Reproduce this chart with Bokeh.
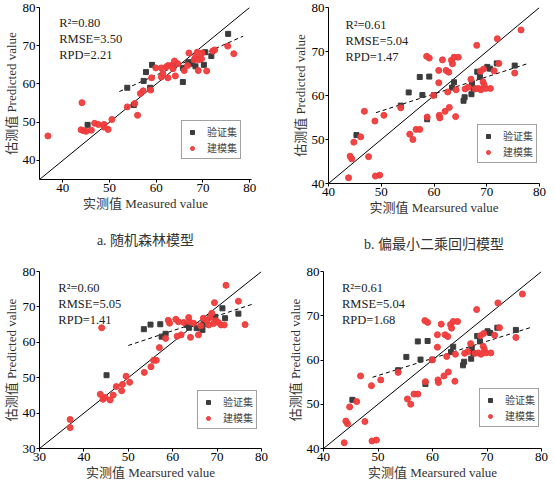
from bokeh.plotting import figure
from bokeh.models import Range1d, FixedTicker, Label, Legend, LegendItem, Title
from bokeh.layouts import column, row
from bokeh.embed import file_html
from bokeh.resources import INLINE

FONT = "'Liberation Serif', 'Noto Sans CJK SC', serif"
RED = "#f03c3c"
GRAY = "#3c3c3c"

# ---- panel a: random forest ----
a_val_x = [45.3, 53.8, 55.2, 57.3, 57.8, 58.7, 59.1, 63.6, 65.7, 65.7, 66.9, 67.7, 68.4, 70.2, 70.5, 71.8, 75.4]
a_val_y = [49.3, 59.0, 54.5, 60.8, 63.1, 59.0, 65.0, 64.8, 60.5, 64.2, 65.7, 65.3, 64.6, 65.0, 68.3, 67.3, 73.1]
a_cal_x = [36.8, 44.1, 43.9, 44.4, 45.0, 46.1, 46.8, 47.6, 48.8, 48.8, 49.7, 50.5, 53.8, 55.4, 56.0, 56.6,
           57.2, 58.8, 59.0, 59.9, 61.1, 61.1, 61.4, 62.1, 62.5, 62.5, 63.2, 63.6, 63.9, 64.1, 64.6, 66.0,
           66.7, 67.0, 68.1, 68.4, 68.8, 69.0, 69.1, 69.7, 69.8, 70.8, 72.1, 72.5, 75.3, 76.6]
a_cal_y = [46.4, 55.1, 48.0, 47.8, 47.6, 47.9, 49.7, 49.4, 48.7, 49.4, 48.1, 50.7, 54.0, 54.9, 51.8, 57.5,
           58.2, 58.4, 61.6, 64.2, 64.2, 61.8, 62.7, 64.4, 64.8, 61.6, 64.8, 64.0, 66.0, 62.1, 65.3, 63.5,
           64.8, 68.1, 66.3, 67.0, 68.3, 63.5, 66.3, 66.6, 68.1, 63.4, 68.6, 68.9, 69.9, 67.9]
a_fit_x = [52.1, 78.6]
a_fit_y = [58.0, 72.5]
a_stats = "R²=0.80\nRMSE=3.50\nRPD=2.21"

# ---- panel b / d: PLSR ----
b_val_x = [45.3, 53.7, 55.2, 57.3, 57.8, 58.7, 59.1, 60.0, 63.4, 63.8, 65.6, 65.8, 67.1, 67.2, 67.5, 68.2,
           68.7, 70.1, 70.6, 71.9, 75.3]
b_val_y = [51.0, 57.7, 60.7, 64.2, 60.1, 54.6, 64.3, 60.1, 61.8, 63.0, 58.8, 59.6, 60.3, 62.8, 61.6, 65.4,
           64.2, 66.5, 66.1, 67.3, 66.8]
b_cal_x = [43.8, 44.1, 44.4, 44.8, 46.1, 46.8, 47.6, 48.8, 48.9, 49.7, 50.5, 53.7, 55.4, 56.0, 56.6, 57.3,
           58.6, 59.1, 58.7, 59.9, 60.9, 60.9, 61.0, 61.1, 61.6, 62.1, 62.3, 62.6, 62.8, 62.9, 63.3, 63.5,
           63.8, 64.2, 64.1, 64.6, 65.9, 66.5, 67.0, 67.8, 68.1, 68.4, 68.8, 68.9, 69.3, 69.4, 69.5, 69.8,
           70.7, 71.4, 72.0, 72.3, 75.3, 76.5]
b_cal_y = [41.3, 46.2, 45.6, 49.4, 50.6, 56.4, 46.1, 54.2, 41.7, 41.9, 55.5, 57.2, 51.2, 50.0, 52.3, 52.3,
           68.9, 68.5, 55.1, 60.0, 65.7, 62.9, 55.5, 54.9, 68.1, 56.4, 65.7, 60.8, 65.3, 57.3, 68.0, 67.2,
           68.7, 61.3, 55.2, 68.7, 61.5, 61.9, 63.7, 61.5, 71.4, 61.6, 65.5, 61.3, 63.1, 66.0, 62.4, 61.6,
           61.6, 65.6, 72.9, 67.3, 65.1, 74.9]
b_fit_x = [49.0, 77.9]
b_fit_y = [56.1, 67.3]
b_stats = "R²=0.61\nRMSE=5.04\nRPD=1.47"
d_stats = "R²=0.61\nRMSE=5.04\nRPD=1.68"

# ---- panel c ----
c_val_x = [45.1, 53.5, 55.0, 57.2, 57.5, 58.4, 63.2, 63.7, 65.4, 66.7, 66.9, 69.6, 71.2, 71.8, 74.8]
c_val_y = [50.7, 63.7, 65.0, 65.1, 61.6, 62.4, 64.9, 64.1, 64.0, 63.5, 65.1, 67.2, 69.6, 66.8, 68.1]
c_cal_x = [36.9, 36.9, 43.7, 44.0, 44.3, 44.8, 45.9, 46.6, 47.3, 48.5, 48.7, 49.5, 50.3, 53.6, 55.1, 55.7,
           56.3, 57.0, 58.4, 59.0, 59.3, 60.7, 61.0, 61.3, 61.9, 62.5, 63.6, 63.8, 64.0, 64.7, 65.8, 66.3,
           66.9, 67.7, 68.1, 68.4, 68.8, 69.2, 69.4, 69.7, 70.3, 70.9, 71.6, 72.0, 74.8, 76.3]
c_cal_y = [38.2, 35.9, 45.3, 64.1, 43.9, 44.4, 43.7, 45.1, 47.5, 46.3, 48.1, 50.4, 48.7, 51.5, 53.1, 54.9,
           54.9, 58.5, 61.1, 66.2, 65.4, 66.5, 61.7, 65.8, 62.1, 65.6, 67.0, 65.8, 61.4, 65.4, 62.1, 64.7,
           66.8, 66.1, 64.9, 67.0, 68.2, 65.3, 71.2, 66.1, 65.6, 64.9, 64.9, 76.1, 71.6, 65.0]
c_fit_x = [50.0, 77.8]
c_fit_y = [59.1, 70.7]
c_stats = "R²=0.60\nRMSE=5.05\nRPD=1.41"

ticks_a = [40, 50, 60, 70, 80]
ticks_c = [30, 40, 50, 60, 70, 80]

X_LABEL_A = "实测值 Measured value"
X_LABEL_B = "实测值 Mearsured value"
Y_LABEL = "估测值 Predicted value"
LEG = ["验证集", "建模集"]


def panel(fw, fh, xr, yr, ticks, vx, vy, cx, cy, fx, fy, stats, xlabel,
          borders, legend_loc, text_pos, caption=None):
    p = figure(frame_width=fw, frame_height=fh, output_backend="svg", toolbar_location=None,
               x_range=Range1d(*xr), y_range=Range1d(*yr),
               min_border_left=borders[0], min_border_right=borders[1],
               min_border_top=borders[2], min_border_bottom=borders[3])
    p.outline_line_color = None
    p.grid.visible = False
    p.background_fill_color = "white"
    p.border_fill_color = "white"
    for ax in (p.xaxis[0], p.yaxis[0]):
        ax.ticker = FixedTicker(ticks=ticks)
        ax.minor_tick_line_color = None
        ax.major_tick_out = 3
        ax.major_tick_in = 0
        ax.major_label_standoff = 1
        ax.axis_label_standoff = 1
        ax.axis_line_color = "black"
        ax.major_tick_line_color = "black"
        ax.major_label_text_font = FONT
        ax.major_label_text_font_size = "13px"
        ax.major_label_text_color = "black"
        ax.axis_label_text_font = FONT
        ax.axis_label_text_font_size = "13px"
        ax.axis_label_text_font_style = "normal"
        ax.axis_label_text_color = "#333333"
    p.xaxis.axis_label = xlabel
    p.yaxis.axis_label = Y_LABEL

    lo = min(xr[0], yr[0])
    hi = min(xr[1], yr[1])
    p.line([lo, hi], [lo, hi], line_color="black", line_width=1)
    p.line(fx, fy, line_color="black", line_width=1, line_dash="4 3")

    rv = p.scatter(vx, vy, marker="square", size=5, fill_color=GRAY, line_color=GRAY)
    rc = p.scatter(cx, cy, marker="circle", size=6, fill_color=RED, line_color=RED, fill_alpha=0.95)

    leg = Legend(items=[LegendItem(label=LEG[0], renderers=[rv]),
                        LegendItem(label=LEG[1], renderers=[rc])],
                 location=legend_loc, orientation="vertical",
                 label_text_font="'Noto Sans CJK SC', serif", label_text_font_size="10px",
                 label_height=10, glyph_height=10, glyph_width=14, label_standoff=8,
                 padding=3, spacing=1, margin=0,
                 border_line_color="#444444", border_line_width=1,
                 background_fill_color="white", background_fill_alpha=1)
    p.add_layout(leg)

    tx = xr[0] + text_pos[0] * (xr[1] - xr[0])
    ty = yr[1] - text_pos[1] * (yr[1] - yr[0])
    p.add_layout(Label(x=tx, y=ty, text=stats, text_font=FONT, text_font_size="12.5px",
                       text_color="#222222", text_baseline="top", text_align="left",
                       text_line_height=1.15))
    if caption:
        # small blank spacer between the axis label and the caption
        p.add_layout(Title(text=" ", text_font_size="8px", standoff=0), "below")
        p.add_layout(Title(text=caption, align="center", text_font=FONT,
                           text_font_size="14px", text_font_style="normal",
                           text_color="#333333", standoff=12), "below")
    return p


pa = panel(212, 172, (35, 80.4), (35, 80), ticks_a, a_val_x, a_val_y, a_cal_x, a_cal_y,
           a_fit_x, a_fit_y, a_stats, X_LABEL_A, (30, 36, 7, 66), (142, 20), (0.093, 0.05),
           caption="a. 随机森林模型")
pb = panel(211, 176, (40, 80), (40, 80), ticks_a, b_val_x, b_val_y, b_cal_x, b_cal_y,
           b_fit_x, b_fit_y, b_stats, X_LABEL_B, (41, 8, 5, 62), (149, 20), (0.08, 0.06),
           caption="b. 偏最小二乘回归模型")
pc = panel(222, 177, (30, 80), (30, 80), ticks_c, c_val_x, c_val_y, c_cal_x, c_cal_y,
           c_fit_x, c_fit_y, c_stats, X_LABEL_B, (33, 23, 16, 34), (158, 19), (0.085, 0.055))
pd_ = panel(218, 177, (40, 80), (40, 80), ticks_a, b_val_x, b_val_y, b_cal_x, b_cal_y,
            b_fit_x, b_fit_y, d_stats, X_LABEL_B, (34, 8, 16, 34), (156, 21), (0.085, 0.055))

layout = column(row(pa, pb, spacing=0), row(pc, pd_, spacing=0), spacing=0)
open("out.html", "w").write(file_html(layout, INLINE))
